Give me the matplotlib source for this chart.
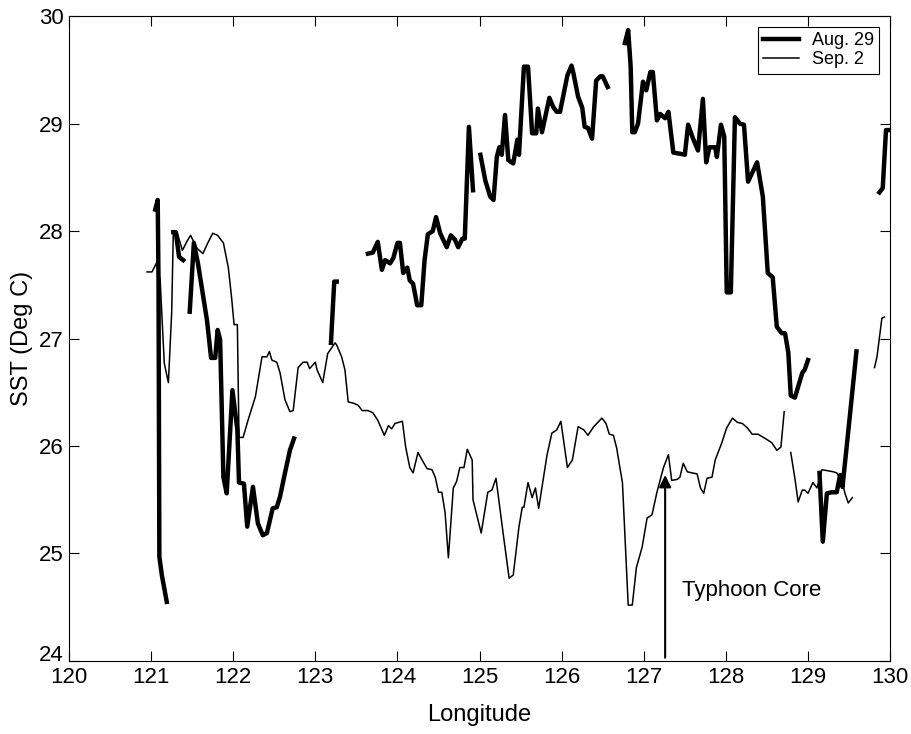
import matplotlib
matplotlib.use('Agg')
import matplotlib.pyplot as plt
import matplotlib.transforms as mtransforms
import numpy as np

plt.rcParams['font.family'] = ['Liberation Sans', 'DejaVu Sans']

# Aug. 29 track (thick line), broken into pieces where data is missing
aug_lon_1 = [121.05, 121.08, 121.09, 121.10, 121.13, 121.19]
aug_sst_1 = [28.20, 28.29, 27.50, 24.97, 24.80, 24.55]

aug_lon_2 = [121.27, 121.30, 121.34, 121.39]
aug_sst_2 = [27.99, 27.99, 27.76, 27.73]

aug_lon_3 = [121.47, 121.52, 121.57, 121.68, 121.73, 121.78, 121.81, 121.84, 121.88,
             121.92, 121.99, 122.05, 122.07, 122.13, 122.17, 122.24, 122.30, 122.36,
             122.41, 122.48, 122.53, 122.57, 122.63, 122.69, 122.74]
aug_sst_3 = [27.25, 27.89, 27.70, 27.17, 26.82, 26.82, 27.08, 26.99, 25.71,
             25.56, 26.52, 26.15, 25.66, 25.65, 25.25, 25.62, 25.28, 25.17,
             25.19, 25.42, 25.43, 25.53, 25.75, 25.96, 26.07]

aug_lon_4 = [123.19, 123.23, 123.26]
aug_sst_4 = [26.96, 27.53, 27.53]

aug_lon_5 = [123.64, 123.70, 123.76, 123.81, 123.85, 123.91, 123.95, 124.00, 124.03,
             124.07, 124.12, 124.15, 124.19, 124.24, 124.29, 124.33, 124.37, 124.43,
             124.47, 124.52, 124.60, 124.65, 124.70, 124.74, 124.79, 124.82, 124.87,
             124.92]
aug_sst_5 = [27.79, 27.80, 27.90, 27.64, 27.73, 27.70, 27.75, 27.89, 27.89,
             27.61, 27.66, 27.54, 27.51, 27.31, 27.31, 27.73, 27.97, 28.00,
             28.13, 27.98, 27.85, 27.96, 27.92, 27.85, 27.93, 27.93, 28.97,
             28.38]

aug_lon_6 = [125.01, 125.07, 125.13, 125.17, 125.21, 125.24, 125.27, 125.31, 125.35,
             125.41, 125.46, 125.48, 125.54, 125.59, 125.64, 125.69, 125.71, 125.76,
             125.85, 125.90, 125.94, 125.98, 126.07, 126.12, 126.14, 126.20, 126.25,
             126.28, 126.32, 126.37, 126.42, 126.47, 126.50, 126.56]
aug_sst_6 = [28.71, 28.47, 28.32, 28.29, 28.69, 28.78, 28.71, 29.08, 28.66,
             28.63, 28.85, 28.71, 29.53, 29.53, 28.91, 28.91, 29.14, 28.92,
             29.24, 29.15, 29.11, 29.11, 29.45, 29.54, 29.48, 29.25, 29.15,
             28.97, 28.96, 28.86, 29.40, 29.44, 29.44, 29.34]

aug_lon_7 = [126.77, 126.81, 126.84, 126.86, 126.89, 126.93, 126.99, 127.03, 127.08,
             127.11, 127.16, 127.20, 127.26, 127.30, 127.36, 127.44, 127.50, 127.54,
             127.60, 127.66, 127.72, 127.76, 127.80, 127.87, 127.89, 127.94, 127.98,
             128.01, 128.06, 128.11, 128.17, 128.22, 128.27, 128.38, 128.45, 128.51,
             128.57, 128.62, 128.68, 128.72, 128.76, 128.79, 128.84, 128.93, 128.96,
             129.00]
aug_sst_7 = [29.75, 29.87, 29.53, 28.92, 28.92, 29.00, 29.39, 29.31, 29.48,
             29.48, 29.03, 29.09, 29.05, 29.11, 28.73, 28.72, 28.71, 28.99,
             28.86, 28.75, 29.23, 28.64, 28.78, 28.78, 28.69, 28.99, 28.88,
             27.43, 27.43, 29.06, 29.00, 28.99, 28.46, 28.64, 28.32, 27.61,
             27.57, 27.11, 27.05, 27.05, 26.87, 26.47, 26.45, 26.68, 26.71,
             26.80]

aug_lon_8 = [129.14, 129.18, 129.23, 129.29, 129.35, 129.39, 129.42, 129.48, 129.59]
aug_sst_8 = [25.75, 25.11, 25.56, 25.57, 25.57, 25.73, 25.62, 26.06, 26.88]

aug_lon_9 = [129.87, 129.91, 129.95, 130.00]
aug_sst_9 = [28.36, 28.40, 28.94, 28.94]

# Sep. 2 track (thin line)
sep_lon_1 = [120.95, 121.01, 121.07, 121.11, 121.16, 121.21, 121.25, 121.27, 121.32,
             121.38, 121.44, 121.48, 121.56, 121.63, 121.69, 121.75, 121.81, 121.88,
             121.94, 121.98, 122.01, 122.05, 122.07, 122.12, 122.18, 122.27, 122.35,
             122.41, 122.44, 122.47, 122.53, 122.57, 122.63, 122.69, 122.73, 122.79,
             122.85, 122.90, 122.93, 123.00, 123.02, 123.09, 123.15, 123.24, 123.26,
             123.32, 123.36, 123.40, 123.46, 123.52, 123.57, 123.64, 123.70, 123.76,
             123.84, 123.89, 123.93, 123.97, 124.06, 124.10, 124.15, 124.19, 124.25,
             124.30, 124.36, 124.42, 124.46, 124.50, 124.54, 124.58, 124.62, 124.68,
             124.72, 124.76, 124.81, 124.85, 124.91, 124.92, 125.02, 125.10, 125.15,
             125.20, 125.29, 125.36, 125.41, 125.48, 125.52, 125.54, 125.59, 125.64,
             125.68, 125.72, 125.82, 125.88, 125.94, 125.99, 126.07, 126.13, 126.20,
             126.27, 126.32, 126.39, 126.49, 126.54, 126.58, 126.63, 126.67, 126.70,
             126.74, 126.81, 126.86, 126.91, 126.98, 127.04, 127.10, 127.16, 127.24,
             127.30, 127.34, 127.41, 127.44, 127.48, 127.53, 127.59, 127.65, 127.69,
             127.73, 127.77, 127.83, 127.87, 127.95, 128.01, 128.08, 128.14, 128.20,
             128.26, 128.32, 128.39, 128.48, 128.56, 128.62, 128.67, 128.71]
sep_sst_1 = [27.62, 27.62, 27.71, 27.54, 26.77, 26.59, 27.24, 27.99, 27.98,
             27.82, 27.91, 27.96, 27.84, 27.79, 27.89, 27.98, 27.96, 27.89,
             27.66, 27.38, 27.13, 27.13, 26.08, 26.08, 26.24, 26.46, 26.83,
             26.83, 26.88, 26.80, 26.78, 26.68, 26.43, 26.32, 26.33, 26.73,
             26.78, 26.78, 26.72, 26.78, 26.71, 26.59, 26.86, 26.96, 26.94,
             26.83, 26.71, 26.41, 26.40, 26.38, 26.33, 26.33, 26.31, 26.24,
             26.10, 26.19, 26.16, 26.21, 26.23, 25.99, 25.80, 25.75, 25.94,
             25.87, 25.79, 25.78, 25.71, 25.57, 25.57, 25.38, 24.96, 25.61,
             25.67, 25.80, 25.80, 25.97, 25.87, 25.50, 25.19, 25.57, 25.59,
             25.70, 25.17, 24.77, 24.80, 25.25, 25.43, 25.43, 25.66, 25.52,
             25.61, 25.42, 25.91, 26.12, 26.15, 26.23, 25.80, 25.87, 26.18,
             26.15, 26.10, 26.18, 26.26, 26.21, 26.11, 26.10, 25.98, 25.84,
             25.66, 24.52, 24.52, 24.87, 25.06, 25.33, 25.36, 25.57, 25.80,
             25.92, 25.68, 25.69, 25.71, 25.84, 25.76, 25.75, 25.74, 25.61,
             25.56, 25.70, 25.71, 25.87, 26.03, 26.17, 26.26, 26.22, 26.21,
             26.17, 26.11, 26.11, 26.07, 26.03, 25.96, 25.99, 26.32]

sep_lon_2 = [128.79, 128.84, 128.88, 128.93, 128.96, 129.00, 129.06, 129.11, 129.17,
             129.31, 129.35, 129.42, 129.45, 129.49, 129.54]
sep_sst_2 = [25.94, 25.70, 25.48, 25.59, 25.59, 25.56, 25.66, 25.61, 25.78,
             25.76, 25.75, 25.66, 25.56, 25.47, 25.52]

sep_lon_3 = [129.81, 129.84, 129.90, 129.93]
sep_sst_3 = [26.73, 26.83, 27.19, 27.20]

aug_pieces = [(aug_lon_1, aug_sst_1), (aug_lon_2, aug_sst_2), (aug_lon_3, aug_sst_3),
              (aug_lon_4, aug_sst_4), (aug_lon_5, aug_sst_5), (aug_lon_6, aug_sst_6),
              (aug_lon_7, aug_sst_7), (aug_lon_8, aug_sst_8), (aug_lon_9, aug_sst_9)]
sep_pieces = [(sep_lon_1, sep_sst_1), (sep_lon_2, sep_sst_2), (sep_lon_3, sep_sst_3)]

core_lon = 127.26
core_top = 25.73

fig = plt.figure(figsize=(9.12, 7.34), dpi=100)
ax = fig.add_axes([0.0757, 0.0995, 0.9003, 0.8785])

for i, (lon, sst) in enumerate(sep_pieces):
    ax.plot(lon, sst, color='black', lw=1.1, label='Sep. 2' if i == 0 else None, zorder=2)
for i, (lon, sst) in enumerate(aug_pieces):
    ax.plot(lon, sst, color='black', lw=3.2, label='Aug. 29' if i == 0 else None,
            solid_joinstyle='round', zorder=3)

ax.annotate('', xy=(core_lon, core_top), xytext=(core_lon, 24.03),
            arrowprops=dict(arrowstyle='-|>', color='black', lw=1.5,
                            mutation_scale=18, shrinkA=0, shrinkB=0))
ax.text(127.47, 24.66, 'Typhoon Core', fontsize=16, ha='left', va='center')

ax.set_xlim(120, 130)
ax.set_ylim(24, 30)
ax.set_xticks(np.arange(120, 131, 1))
ax.set_yticks(np.arange(24, 31, 1))
ax.tick_params(direction='in', length=7, top=True, right=True, labelsize=16, pad=4)
ax.set_xlabel('Longitude', fontsize=17, labelpad=12)
ax.set_ylabel('SST (Deg C)', fontsize=17, labelpad=4)

# nudge the bottom y label up a little so it clears the "120"
ylab0 = ax.get_yticklabels()[0]
ylab0.set_transform(ylab0.get_transform() +
                    mtransforms.ScaledTranslation(0, 6 / 72, fig.dpi_scale_trans))

handles, labels = ax.get_legend_handles_labels()
order = [labels.index('Aug. 29'), labels.index('Sep. 2')]
leg = ax.legend([handles[k] for k in order], [labels[k] for k in order],
                loc='upper right', fontsize=13, fancybox=False, framealpha=1,
                edgecolor='black', handlelength=2.0, borderaxespad=0.6,
                labelspacing=0.1, borderpad=0.3, handletextpad=0.7)
leg.get_frame().set_linewidth(0.8)

fig.savefig('out.png', dpi=100)
